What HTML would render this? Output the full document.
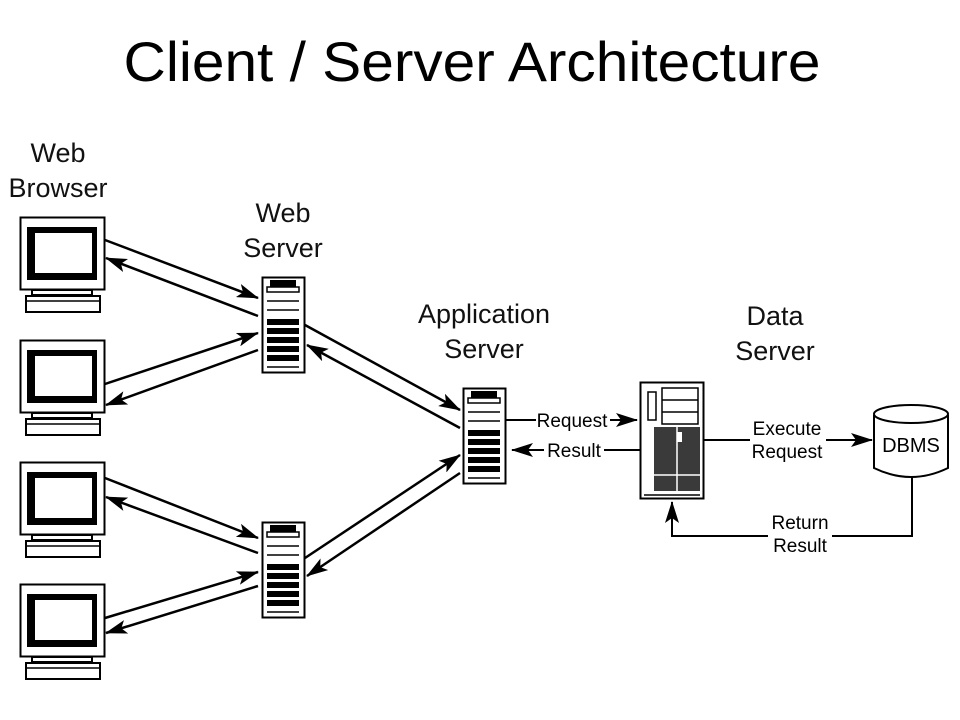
<!DOCTYPE html>
<html><head><meta charset="utf-8"><style>
html,body{margin:0;padding:0;background:#fff;}
svg{display:block;font-family:"Liberation Sans",sans-serif;}
</style></head><body>
<svg width="960" height="720" viewBox="0 0 960 720" xmlns="http://www.w3.org/2000/svg">
<defs>
<marker id="ahb" markerWidth="22" markerHeight="14" refX="21" refY="7" orient="auto" markerUnits="userSpaceOnUse" viewBox="0 0 22 14">
<path d="M0,0 L22,7 L0,14 L5,7 Z" fill="#000"/></marker>
<g id="mon">
<rect x="20.5" y="0.5" width="84" height="72" fill="#fff" stroke="#000" stroke-width="2"/>
<rect x="27" y="10" width="70" height="53" fill="#000"/>
<rect x="35" y="16" width="57" height="40" fill="#fff"/>
<rect x="32" y="73" width="60" height="5" fill="#fff" stroke="#000" stroke-width="2"/>
<rect x="26" y="79" width="74" height="16" fill="#fff" stroke="#000" stroke-width="2"/>
<line x1="26" y1="84" x2="100" y2="84" stroke="#000" stroke-width="1.5"/>
</g>
<g id="srv">
<rect x="0.5" y="0.5" width="42" height="95" fill="#fff" stroke="#000" stroke-width="2"/>
<rect x="8" y="3" width="26" height="7" fill="#000"/>
<rect x="5" y="10" width="32" height="5" fill="#fff" stroke="#000" stroke-width="1.5"/>
<line x1="5" y1="24" x2="37" y2="24" stroke="#000" stroke-width="1.5"/>
<line x1="5" y1="33" x2="37" y2="33" stroke="#000" stroke-width="1.5"/>
<rect x="5" y="42" width="32" height="6" fill="#000"/>
<rect x="5" y="51" width="32" height="6" fill="#000"/>
<rect x="5" y="60" width="32" height="6" fill="#000"/>
<rect x="5" y="69" width="32" height="6" fill="#000"/>
<rect x="5" y="78" width="32" height="6" fill="#000"/>
<line x1="5" y1="90" x2="37" y2="90" stroke="#000" stroke-width="1.5"/>
</g>
</defs>

<text x="472" y="81" font-size="56" text-anchor="middle" textLength="697" lengthAdjust="spacingAndGlyphs">Client / Server Architecture</text>

<g font-size="27" text-anchor="middle" fill="#111">
<text x="58" y="162">Web</text><text x="58" y="197">Browser</text>
<text x="283" y="222">Web</text><text x="283" y="257">Server</text>
<text x="484" y="323">Application</text><text x="484" y="358">Server</text>
<text x="775" y="325">Data</text><text x="775" y="360">Server</text>
</g>

<use href="#mon" x="0" y="217"/>
<use href="#mon" x="0" y="340"/>
<use href="#mon" x="0" y="462"/>
<use href="#mon" x="0" y="584"/>

<use href="#srv" x="262" y="277"/>
<use href="#srv" x="262" y="522"/>
<use href="#srv" x="463" y="388"/>

<rect x="640.5" y="382.5" width="63" height="116" fill="#fff" stroke="#000" stroke-width="2"/>
<rect x="662" y="388" width="36" height="36" fill="#fff" stroke="#000" stroke-width="1.5"/>
<line x1="662" y1="400" x2="698" y2="400" stroke="#000" stroke-width="1.5"/>
<line x1="662" y1="412" x2="698" y2="412" stroke="#000" stroke-width="1.5"/>
<rect x="648" y="392" width="8" height="28" fill="none" stroke="#000" stroke-width="1.5"/>
<rect x="654" y="427" width="46" height="64" fill="#3a3a3a"/>
<rect x="677" y="432" width="5" height="10" fill="#fff"/>
<line x1="677" y1="427" x2="677" y2="491" stroke="#fff" stroke-width="1.5"/>
<line x1="654" y1="475" x2="700" y2="475" stroke="#fff" stroke-width="1.5"/>
<line x1="644" y1="495" x2="700" y2="495" stroke="#000" stroke-width="1.5"/>

<path d="M874,415 L874,468 Q911,486 948,468 L948,415" fill="#fff" stroke="#000" stroke-width="2"/>
<ellipse cx="911" cy="414" rx="37" ry="9" fill="#fff" stroke="#000" stroke-width="2"/>
<text x="911" y="452" font-size="20" text-anchor="middle">DBMS</text>

<g stroke="#000" stroke-width="2.5" fill="none">
<line x1="105" y1="240" x2="258" y2="298" marker-end="url(#ahb)"/>
<line x1="258" y1="316" x2="106" y2="258" marker-end="url(#ahb)"/>
<line x1="105" y1="384" x2="258" y2="333" marker-end="url(#ahb)"/>
<line x1="258" y1="350" x2="106" y2="405" marker-end="url(#ahb)"/>
<line x1="105" y1="478" x2="258" y2="538" marker-end="url(#ahb)"/>
<line x1="258" y1="553" x2="106" y2="497" marker-end="url(#ahb)"/>
<line x1="105" y1="618" x2="258" y2="572" marker-end="url(#ahb)"/>
<line x1="258" y1="586" x2="106" y2="633" marker-end="url(#ahb)"/>
<line x1="305" y1="325" x2="460" y2="410" marker-end="url(#ahb)"/>
<line x1="460" y1="428" x2="307" y2="345" marker-end="url(#ahb)"/>
<line x1="305" y1="558" x2="460" y2="455" marker-end="url(#ahb)"/>
<line x1="460" y1="473" x2="307" y2="576" marker-end="url(#ahb)"/>
</g>
<g stroke="#000" stroke-width="2" fill="none">
<line x1="506" y1="420" x2="536" y2="420"/>
<line x1="610" y1="420" x2="637" y2="420" marker-end="url(#ahb)"/>
<line x1="640" y1="450" x2="604" y2="450"/>
<line x1="544" y1="450" x2="512" y2="450" marker-end="url(#ahb)"/>
<line x1="704" y1="440" x2="750" y2="440"/>
<line x1="826" y1="440" x2="872" y2="440" marker-end="url(#ahb)"/>
<polyline points="912,477 912,536 832,536"/>
<polyline points="768,536 672,536 672,502" marker-end="url(#ahb)"/>
</g>
<g font-size="19" text-anchor="middle">
<text x="572" y="427">Request</text>
<text x="574" y="457">Result</text>
<text x="787" y="435">Execute</text>
<text x="787" y="458">Request</text>
<text x="800" y="529">Return</text>
<text x="800" y="552">Result</text>
</g>
</svg>
</body></html>
